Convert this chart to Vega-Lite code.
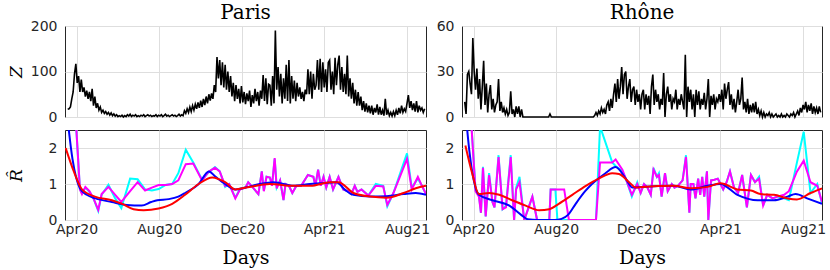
{
"$schema":"https://vega.github.io/schema/vega-lite/v6.json",
"padding":{"left":6,"top":2,"right":4,"bottom":0},
"bounds":"flush",
"spacing":{"row":13,"column":36},
"columns":2,
"config":{
"view":{"stroke":"#262626","strokeWidth":1},
"font":"DejaVu Sans",
"axis":{"labelFont":"DejaVu Sans","labelFontSize":14,"labelColor":"#262626","gridColor":"#dedede","gridWidth":1,"domain":false,"ticks":false,"labelPadding":8,"labelFlush":false,"titleFont":"DejaVu Serif","titleFontWeight":"normal","titleColor":"#000000"},
"title":{"font":"DejaVu Serif","fontSize":20,"fontWeight":"normal","color":"#000000","baseline":"alphabetic","offset":-4,"anchor":"middle"},
"line":{"invalid":"filter"}
},
"datasets":{
"z":[
{"d":"2020-03-19","p":17,"r":10},{"d":"2020-03-21","p":18,"r":2},{"d":"2020-03-23","p":22,"r":28},{"d":"2020-03-25","p":40,"r":30},{"d":"2020-03-27","p":55,"r":22},{"d":"2020-03-29","p":95,"r":15},{"d":"2020-03-31","p":117,"r":52},
{"d":"2020-04-02","p":75,"r":30},{"d":"2020-04-04","p":90,"r":18},{"d":"2020-04-06","p":55,"r":32},{"d":"2020-04-08","p":82,"r":12},{"d":"2020-04-10","p":55,"r":25},{"d":"2020-04-12","p":65,"r":5},{"d":"2020-04-14","p":45,"r":20},{"d":"2020-04-16","p":58,"r":37},{"d":"2020-04-18","p":40,"r":8},{"d":"2020-04-20","p":55,"r":22},{"d":"2020-04-22","p":35,"r":3},{"d":"2020-04-24","p":62,"r":15},{"d":"2020-04-26","p":25,"r":21},{"d":"2020-04-28","p":45,"r":5},{"d":"2020-04-30","p":20,"r":12},
{"d":"2020-05-02","p":30,"r":3},{"d":"2020-05-04","p":15,"r":8},{"d":"2020-05-06","p":22,"r":10},{"d":"2020-05-08","p":10,"r":25},{"d":"2020-05-10","p":15,"r":4},{"d":"2020-05-12","p":8,"r":10},{"d":"2020-05-14","p":12,"r":3},{"d":"2020-05-16","p":6,"r":6},{"d":"2020-05-18","p":10,"r":2},{"d":"2020-05-20","p":4,"r":5},{"d":"2020-05-22","p":9,"r":1},{"d":"2020-05-24","p":3,"r":3},{"d":"2020-05-26","p":7,"r":17},{"d":"2020-05-28","p":2,"r":2},{"d":"2020-05-30","p":5,"r":5},
{"d":"2020-06-01","p":1,"r":0},{"d":"2020-06-03","p":3,"r":7},{"d":"2020-06-05","p":1,"r":2},{"d":"2020-06-07","p":4,"r":7},{"d":"2020-06-09","p":0,"r":0},{"d":"2020-06-11","p":3,"r":5},{"d":"2020-06-13","p":1,"r":0},{"d":"2020-06-15","p":5,"r":0},{"d":"2020-06-17","p":2,"r":0},{"d":"2020-06-19","p":6,"r":0},{"d":"2020-06-21","p":1,"r":0},{"d":"2020-06-23","p":4,"r":0},{"d":"2020-06-25","p":2,"r":0},{"d":"2020-06-27","p":5,"r":0},{"d":"2020-06-29","p":1,"r":0},
{"d":"2020-07-01","p":3,"r":0},{"d":"2020-07-03","p":1,"r":0},{"d":"2020-07-05","p":4,"r":0},{"d":"2020-07-07","p":2,"r":0},{"d":"2020-07-09","p":5,"r":0},{"d":"2020-07-11","p":1,"r":0},{"d":"2020-07-13","p":3,"r":0},{"d":"2020-07-15","p":5,"r":0},{"d":"2020-07-17","p":2,"r":0},{"d":"2020-07-19","p":4,"r":0},{"d":"2020-07-21","p":1,"r":0},{"d":"2020-07-23","p":3,"r":2},{"d":"2020-07-25","p":2,"r":0},{"d":"2020-07-27","p":5,"r":0},{"d":"2020-07-29","p":1,"r":0},{"d":"2020-07-31","p":4,"r":0},
{"d":"2020-08-02","p":2,"r":0},{"d":"2020-08-04","p":5,"r":0},{"d":"2020-08-06","p":1,"r":0},{"d":"2020-08-08","p":3,"r":0},{"d":"2020-08-10","p":6,"r":0},{"d":"2020-08-12","p":2,"r":0},{"d":"2020-08-14","p":4,"r":0},{"d":"2020-08-16","p":1,"r":0},{"d":"2020-08-18","p":3,"r":0},{"d":"2020-08-20","p":5,"r":0},{"d":"2020-08-22","p":2,"r":0},{"d":"2020-08-24","p":4,"r":0},{"d":"2020-08-26","p":1,"r":0},{"d":"2020-08-28","p":3,"r":0},{"d":"2020-08-30","p":6,"r":0},
{"d":"2020-09-01","p":2,"r":0},{"d":"2020-09-03","p":5,"r":0},{"d":"2020-09-05","p":3,"r":0},{"d":"2020-09-07","p":14,"r":0},{"d":"2020-09-09","p":8,"r":0},{"d":"2020-09-11","p":18,"r":0},{"d":"2020-09-13","p":10,"r":0},{"d":"2020-09-15","p":22,"r":0},{"d":"2020-09-17","p":12,"r":0},{"d":"2020-09-19","p":25,"r":0},{"d":"2020-09-21","p":15,"r":0},{"d":"2020-09-23","p":28,"r":0},{"d":"2020-09-25","p":18,"r":0},{"d":"2020-09-27","p":32,"r":1},{"d":"2020-09-29","p":20,"r":3},
{"d":"2020-10-01","p":36,"r":1},{"d":"2020-10-03","p":22,"r":4},{"d":"2020-10-05","p":40,"r":2},{"d":"2020-10-07","p":26,"r":6},{"d":"2020-10-09","p":45,"r":3},{"d":"2020-10-11","p":30,"r":5},{"d":"2020-10-13","p":50,"r":2},{"d":"2020-10-15","p":36,"r":8},{"d":"2020-10-17","p":52,"r":10},{"d":"2020-10-19","p":40,"r":4},{"d":"2020-10-21","p":70,"r":12},{"d":"2020-10-23","p":55,"r":6},{"d":"2020-10-25","p":132,"r":15},{"d":"2020-10-27","p":85,"r":22},{"d":"2020-10-29","p":125,"r":10},{"d":"2020-10-31","p":70,"r":25},
{"d":"2020-11-02","p":120,"r":12},{"d":"2020-11-04","p":65,"r":20},{"d":"2020-11-06","p":115,"r":33},{"d":"2020-11-08","p":60,"r":15},{"d":"2020-11-10","p":100,"r":28},{"d":"2020-11-12","p":55,"r":30},{"d":"2020-11-14","p":90,"r":12},{"d":"2020-11-16","p":45,"r":20},{"d":"2020-11-18","p":75,"r":25},{"d":"2020-11-20","p":35,"r":10},{"d":"2020-11-22","p":70,"r":18},{"d":"2020-11-24","p":40,"r":20},{"d":"2020-11-26","p":62,"r":8},{"d":"2020-11-28","p":30,"r":18},{"d":"2020-11-30","p":68,"r":10},
{"d":"2020-12-02","p":32,"r":15},{"d":"2020-12-04","p":55,"r":5},{"d":"2020-12-06","p":28,"r":15},{"d":"2020-12-08","p":52,"r":18},{"d":"2020-12-10","p":35,"r":5},{"d":"2020-12-12","p":58,"r":15},{"d":"2020-12-14","p":22,"r":8},{"d":"2020-12-16","p":48,"r":14},{"d":"2020-12-18","p":30,"r":2},{"d":"2020-12-20","p":62,"r":20},{"d":"2020-12-22","p":35,"r":28},{"d":"2020-12-24","p":55,"r":8},{"d":"2020-12-26","p":25,"r":18},{"d":"2020-12-28","p":58,"r":10},{"d":"2020-12-30","p":40,"r":15},
{"d":"2021-01-01","p":92,"r":5},{"d":"2021-01-03","p":35,"r":12},{"d":"2021-01-05","p":85,"r":8},{"d":"2021-01-07","p":28,"r":29},{"d":"2021-01-09","p":72,"r":0},{"d":"2021-01-11","p":70,"r":15},{"d":"2021-01-13","p":25,"r":20},{"d":"2021-01-15","p":90,"r":10},{"d":"2021-01-17","p":30,"r":15},{"d":"2021-01-19","p":190,"r":5},{"d":"2021-01-21","p":60,"r":12},{"d":"2021-01-23","p":110,"r":10},{"d":"2021-01-25","p":45,"r":18},{"d":"2021-01-27","p":95,"r":5},{"d":"2021-01-29","p":30,"r":12},{"d":"2021-01-31","p":85,"r":8},
{"d":"2021-02-02","p":40,"r":15},{"d":"2021-02-04","p":115,"r":10},{"d":"2021-02-06","p":35,"r":5},{"d":"2021-02-08","p":125,"r":41},{"d":"2021-02-10","p":30,"r":0},{"d":"2021-02-12","p":90,"r":20},{"d":"2021-02-14","p":40,"r":10},{"d":"2021-02-16","p":80,"r":18},{"d":"2021-02-18","p":35,"r":5},{"d":"2021-02-20","p":75,"r":15},{"d":"2021-02-22","p":45,"r":0},{"d":"2021-02-24","p":65,"r":18},{"d":"2021-02-26","p":40,"r":8},{"d":"2021-02-28","p":55,"r":17},
{"d":"2021-03-02","p":35,"r":5},{"d":"2021-03-04","p":60,"r":12},{"d":"2021-03-06","p":50,"r":8},{"d":"2021-03-08","p":105,"r":16},{"d":"2021-03-10","p":50,"r":5},{"d":"2021-03-12","p":100,"r":12},{"d":"2021-03-14","p":40,"r":25},{"d":"2021-03-16","p":95,"r":0},{"d":"2021-03-18","p":60,"r":14},{"d":"2021-03-20","p":70,"r":8},{"d":"2021-03-22","p":125,"r":15},{"d":"2021-03-24","p":60,"r":5},{"d":"2021-03-26","p":128,"r":12},{"d":"2021-03-28","p":55,"r":10},{"d":"2021-03-30","p":120,"r":15},
{"d":"2021-04-01","p":65,"r":10},{"d":"2021-04-03","p":105,"r":18},{"d":"2021-04-05","p":55,"r":5},{"d":"2021-04-07","p":120,"r":22},{"d":"2021-04-09","p":125,"r":12},{"d":"2021-04-11","p":60,"r":18},{"d":"2021-04-13","p":100,"r":23},{"d":"2021-04-15","p":50,"r":8},{"d":"2021-04-17","p":130,"r":15},{"d":"2021-04-19","p":70,"r":5},{"d":"2021-04-21","p":115,"r":12},{"d":"2021-04-23","p":135,"r":3},{"d":"2021-04-25","p":60,"r":10},{"d":"2021-04-27","p":110,"r":18},{"d":"2021-04-29","p":55,"r":8},
{"d":"2021-05-01","p":95,"r":12},{"d":"2021-05-03","p":50,"r":26},{"d":"2021-05-05","p":135,"r":5},{"d":"2021-05-07","p":45,"r":10},{"d":"2021-05-09","p":85,"r":3},{"d":"2021-05-11","p":40,"r":12},{"d":"2021-05-13","p":75,"r":2},{"d":"2021-05-15","p":30,"r":8},{"d":"2021-05-17","p":60,"r":3},{"d":"2021-05-19","p":25,"r":9},{"d":"2021-05-21","p":55,"r":3},{"d":"2021-05-23","p":25,"r":10},{"d":"2021-05-25","p":45,"r":2},{"d":"2021-05-27","p":15,"r":5},{"d":"2021-05-29","p":35,"r":1},{"d":"2021-05-31","p":12,"r":4},
{"d":"2021-06-02","p":30,"r":0},{"d":"2021-06-04","p":10,"r":3},{"d":"2021-06-06","p":25,"r":0},{"d":"2021-06-08","p":8,"r":2},{"d":"2021-06-10","p":25,"r":1},{"d":"2021-06-12","p":5,"r":3},{"d":"2021-06-14","p":20,"r":0},{"d":"2021-06-16","p":10,"r":2},{"d":"2021-06-18","p":28,"r":0},{"d":"2021-06-20","p":5,"r":1},{"d":"2021-06-22","p":22,"r":2},{"d":"2021-06-24","p":5,"r":0},{"d":"2021-06-26","p":15,"r":1},{"d":"2021-06-28","p":3,"r":0},{"d":"2021-06-30","p":40,"r":2},
{"d":"2021-07-02","p":5,"r":0},{"d":"2021-07-04","p":15,"r":1},{"d":"2021-07-06","p":3,"r":0},{"d":"2021-07-08","p":10,"r":2},{"d":"2021-07-10","p":2,"r":1},{"d":"2021-07-12","p":12,"r":0},{"d":"2021-07-14","p":3,"r":2},{"d":"2021-07-16","p":15,"r":1},{"d":"2021-07-18","p":5,"r":3},{"d":"2021-07-20","p":20,"r":0},{"d":"2021-07-22","p":8,"r":2},{"d":"2021-07-24","p":25,"r":4},{"d":"2021-07-26","p":10,"r":1},{"d":"2021-07-28","p":18,"r":6},{"d":"2021-07-30","p":12,"r":3},
{"d":"2021-08-01","p":30,"r":8},{"d":"2021-08-03","p":48,"r":5},{"d":"2021-08-05","p":20,"r":10},{"d":"2021-08-07","p":35,"r":3},{"d":"2021-08-09","p":15,"r":8},{"d":"2021-08-11","p":30,"r":4},{"d":"2021-08-13","p":12,"r":9},{"d":"2021-08-15","p":35,"r":2},{"d":"2021-08-17","p":10,"r":7},{"d":"2021-08-19","p":25,"r":3},{"d":"2021-08-21","p":15,"r":6},{"d":"2021-08-23","p":20,"r":2},{"d":"2021-08-25","p":10,"r":7},{"d":"2021-08-27","p":18,"r":3}
],
"pcm":[
{"d":"2020-03-27","c":4,"m":4},{"d":"2020-04-06","c":0.85,"m":0.85},{"d":"2020-04-09","c":0.75,"m":0.72},{"d":"2020-04-14","c":0.9,"m":0.92},{"d":"2020-04-20","c":0.78,"m":0.8},{"d":"2020-04-26","c":0.6,"m":0.6},{"d":"2020-05-03","c":0.25,"m":0.28},{"d":"2020-05-08","c":0.7,"m":0.72},{"d":"2020-05-18","c":0.98,"m":0.92},{"d":"2020-05-28","c":0.6,"m":0.7},{"d":"2020-06-06","c":0.33,"m":0.5},{"d":"2020-06-19","c":1.15,"m":0.8},{"d":"2020-06-30","c":1.13,"m":1.05},{"d":"2020-07-11","c":0.85,"m":0.82},{"d":"2020-07-21","c":0.82,"m":0.9},{"d":"2020-07-31","c":0.86,"m":0.97},{"d":"2020-08-11","c":0.98,"m":0.97},{"d":"2020-08-20","c":1.0,"m":1.0},{"d":"2020-08-29","c":1.3,"m":1.1},{"d":"2020-09-09","c":1.95,"m":1.55},{"d":"2020-09-20","c":1.6,"m":1.57},{"d":"2020-10-03","c":1.12,"m":1.1},{"d":"2020-10-13","c":1.33,"m":1.35},{"d":"2020-10-22","c":1.47,"m":1.45},{"d":"2020-10-29","c":1.35,"m":1.35},{"d":"2020-11-06","c":0.92,"m":0.95},{"d":"2020-11-12","c":1.0,"m":1.0},{"d":"2020-11-21","c":0.62,"m":0.6},{"d":"2020-11-28","c":0.87,"m":0.85},{"d":"2020-12-06","c":0.9,"m":0.9},{"d":"2020-12-10","c":1.05,"m":1.05},{"d":"2020-12-17","c":0.9,"m":0.9},{"d":"2020-12-25","c":0.72,"m":0.72},{"d":"2020-12-30","c":1.35,"m":1.35},{"d":"2021-01-02","c":0.82,"m":0.8},{"d":"2021-01-06","c":1.2,"m":1.2},{"d":"2021-01-11","c":1.18,"m":1.18},{"d":"2021-01-14","c":0.95,"m":0.95},{"d":"2021-01-18","c":1.7,"m":1.72},{"d":"2021-01-21","c":0.9,"m":0.88},{"d":"2021-01-26","c":1.1,"m":1.1},{"d":"2021-01-31","c":0.55,"m":0.55},{"d":"2021-02-03","c":1.0,"m":1.0},{"d":"2021-02-08","c":0.95,"m":0.95},{"d":"2021-02-13","c":0.75,"m":0.75},{"d":"2021-02-19","c":0.95,"m":0.95},{"d":"2021-02-26","c":0.95,"m":0.95},{"d":"2021-03-08","c":1.25,"m":1.25},{"d":"2021-03-16","c":1.2,"m":1.2},{"d":"2021-03-19","c":0.95,"m":0.95},{"d":"2021-03-23","c":1.4,"m":1.4},{"d":"2021-03-27","c":0.95,"m":0.95},{"d":"2021-03-31","c":1.2,"m":1.2},{"d":"2021-04-04","c":0.9,"m":0.9},{"d":"2021-04-09","c":1.2,"m":1.2},{"d":"2021-04-14","c":0.85,"m":0.85},{"d":"2021-04-22","c":1.2,"m":1.2},{"d":"2021-04-29","c":0.85,"m":0.85},{"d":"2021-05-06","c":0.8,"m":0.8},{"d":"2021-05-11","c":0.72,"m":0.72},{"d":"2021-05-16","c":0.95,"m":0.95},{"d":"2021-05-20","c":0.78,"m":0.78},{"d":"2021-05-26","c":0.85,"m":0.85},{"d":"2021-06-05","c":0.68,"m":0.68},{"d":"2021-06-16","c":1.0,"m":0.95},{"d":"2021-06-27","c":0.95,"m":0.93},{"d":"2021-07-03","c":0.38,"m":0.42},{"d":"2021-07-12","c":0.75,"m":0.75},{"d":"2021-08-01","c":1.85,"m":1.7},{"d":"2021-08-08","c":0.9,"m":0.85},{"d":"2021-08-17","c":1.15,"m":1.2},{"d":"2021-08-23","c":0.95,"m":0.95},{"d":"2021-08-29","c":0.72,"m":0.72}
],
"pb":[
{"d":"2020-03-16","v":3.3},{"d":"2020-03-26","v":1.7},{"d":"2020-04-06","v":0.88},{"d":"2020-04-16","v":0.7},{"d":"2020-04-29","v":0.6},{"d":"2020-05-23","v":0.5},{"d":"2020-06-14","v":0.42},{"d":"2020-07-06","v":0.4},{"d":"2020-07-20","v":0.5},{"d":"2020-07-29","v":0.55},{"d":"2020-08-15","v":0.58},{"d":"2020-08-29","v":0.65},{"d":"2020-09-08","v":0.75},{"d":"2020-09-28","v":1.0},{"d":"2020-10-13","v":1.35},{"d":"2020-10-23","v":1.2},{"d":"2020-11-06","v":1.0},{"d":"2020-11-21","v":0.85},{"d":"2020-12-06","v":0.9},{"d":"2020-12-27","v":1.0},{"d":"2021-01-16","v":1.05},{"d":"2021-02-15","v":0.95},{"d":"2021-03-11","v":1.0},{"d":"2021-04-01","v":1.03},{"d":"2021-04-19","v":1.05},{"d":"2021-05-01","v":0.85},{"d":"2021-05-14","v":0.7},{"d":"2021-06-08","v":0.65},{"d":"2021-07-02","v":0.66},{"d":"2021-07-27","v":0.72},{"d":"2021-08-14","v":0.75},{"d":"2021-08-29","v":0.7}
],
"pr":[
{"d":"2020-03-16","v":2.0},{"d":"2020-03-28","v":1.35},{"d":"2020-04-09","v":0.85},{"d":"2020-04-28","v":0.65},{"d":"2020-05-23","v":0.55},{"d":"2020-06-07","v":0.45},{"d":"2020-06-24","v":0.3},{"d":"2020-07-09","v":0.27},{"d":"2020-07-31","v":0.32},{"d":"2020-08-20","v":0.45},{"d":"2020-09-08","v":0.7},{"d":"2020-09-28","v":1.0},{"d":"2020-10-18","v":1.18},{"d":"2020-11-06","v":1.05},{"d":"2020-11-21","v":0.85},{"d":"2020-12-07","v":0.9},{"d":"2021-01-11","v":1.0},{"d":"2021-02-15","v":0.95},{"d":"2021-03-12","v":0.95},{"d":"2021-04-10","v":1.05},{"d":"2021-04-22","v":1.05},{"d":"2021-05-14","v":0.75},{"d":"2021-06-08","v":0.65},{"d":"2021-07-02","v":0.62},{"d":"2021-07-27","v":0.75},{"d":"2021-08-14","v":0.88},{"d":"2021-08-29","v":0.95}
],
"rcm":[
{"d":"2020-03-26","c":3.5,"m":3.5},{"d":"2020-04-04","c":0.85,"m":0.8},{"d":"2020-04-09","c":0.7,"m":0.65},{"d":"2020-04-12","c":0.2,"m":0.2},{"d":"2020-04-15","c":1.48,"m":1.45},{"d":"2020-04-19","c":0.1,"m":0.1},{"d":"2020-04-24","c":1.3,"m":1.25},{"d":"2020-04-29","c":0.5,"m":0.5},{"d":"2020-05-02","c":0.35,"m":0.35},{"d":"2020-05-08","c":1.8,"m":1.75},{"d":"2020-05-14","c":0.3,"m":0.3},{"d":"2020-05-19","c":0.4,"m":0.35},{"d":"2020-05-26","c":1.8,"m":1.75},{"d":"2020-05-31","c":0,"m":0},{"d":"2020-06-03","c":0.9,"m":0.85},{"d":"2020-06-08","c":1.2,"m":1.05},{"d":"2020-06-15","c":0,"m":0},{"d":"2020-06-27","c":0.65,"m":0.65},{"d":"2020-07-04","c":0,"m":0},{"d":"2020-07-22","c":0,"m":0},{"d":"2020-07-24","c":0.85,"m":0.85},{"d":"2020-07-31","c":0.85,"m":0.85},{"d":"2020-08-03","c":0,"m":null},{"d":"2020-08-13","c":null,"m":0.85},{"d":"2020-08-20","c":0,"m":0},{"d":"2020-09-29","c":0,"m":0},{"d":"2020-10-05","c":2.6,"m":1.6},{"d":"2020-10-23","c":1.6,"m":1.6},{"d":"2020-10-28","c":1.5,"m":1.68},{"d":"2020-11-07","c":1.35,"m":1.4},{"d":"2020-11-12","c":1.15,"m":1.15},{"d":"2020-11-21","c":0.65,"m":0.7},{"d":"2020-11-29","c":1.05,"m":1.0},{"d":"2020-12-04","c":0.75,"m":0.75},{"d":"2020-12-09","c":1.0,"m":1.0},{"d":"2020-12-14","c":0.9,"m":0.9},{"d":"2020-12-19","c":0.7,"m":0.7},{"d":"2020-12-23","c":1.45,"m":1.4},{"d":"2020-12-28","c":1.2,"m":1.2},{"d":"2020-12-31","c":1.3,"m":1.25},{"d":"2021-01-04","c":0.65,"m":0.65},{"d":"2021-01-09","c":1.3,"m":1.3},{"d":"2021-01-13","c":0.8,"m":0.8},{"d":"2021-01-19","c":1.0,"m":1.0},{"d":"2021-01-23","c":0.9,"m":0.9},{"d":"2021-01-28","c":0.95,"m":0.95},{"d":"2021-02-04","c":1.1,"m":1.1},{"d":"2021-02-09","c":1.8,"m":1.75},{"d":"2021-02-14","c":0.2,"m":0.2},{"d":"2021-02-16","c":1.0,"m":1.0},{"d":"2021-02-20","c":1.0,"m":1.0},{"d":"2021-02-23","c":0.6,"m":0.6},{"d":"2021-02-27","c":1.15,"m":1.15},{"d":"2021-03-02","c":0.7,"m":0.7},{"d":"2021-03-05","c":1.2,"m":1.2},{"d":"2021-03-08","c":0.65,"m":0.65},{"d":"2021-03-12","c":1.35,"m":1.35},{"d":"2021-03-14","c":0,"m":0},{"d":"2021-03-18","c":1.1,"m":1.1},{"d":"2021-03-23","c":1.12,"m":1.12},{"d":"2021-03-28","c":1.15,"m":1.15},{"d":"2021-04-01","c":1.0,"m":1.0},{"d":"2021-04-05","c":0.85,"m":0.85},{"d":"2021-04-10","c":1.05,"m":1.05},{"d":"2021-04-15","c":1.35,"m":1.35},{"d":"2021-04-21","c":0.9,"m":0.9},{"d":"2021-04-27","c":0.75,"m":0.75},{"d":"2021-05-03","c":1.25,"m":1.25},{"d":"2021-05-10","c":0.35,"m":0.35},{"d":"2021-05-16","c":1.25,"m":1.25},{"d":"2021-05-22","c":1.05,"m":1.05},{"d":"2021-05-28","c":1.2,"m":1.15},{"d":"2021-06-03","c":0.4,"m":0.4},{"d":"2021-06-09","c":0.7,"m":0.7},{"d":"2021-06-17","c":0.6,"m":0.6},{"d":"2021-06-24","c":0.65,"m":0.65},{"d":"2021-07-04","c":0.6,"m":0.7},{"d":"2021-07-11","c":0.55,"m":0.8},{"d":"2021-07-23","c":1.6,"m":1.35},{"d":"2021-08-02","c":2.45,"m":1.65},{"d":"2021-08-12","c":0.75,"m":1.05},{"d":"2021-08-22","c":1.0,"m":0.95},{"d":"2021-08-29","c":0.45,"m":0.5}
],
"rb":[
{"d":"2020-03-18","v":3.5},{"d":"2020-03-26","v":1.9},{"d":"2020-04-09","v":0.7},{"d":"2020-04-29","v":0.55},{"d":"2020-05-24","v":0.4},{"d":"2020-06-10","v":0.15},{"d":"2020-06-20","v":0.02},{"d":"2020-07-05","v":0},{"d":"2020-07-30","v":0},{"d":"2020-08-09","v":0.03},{"d":"2020-08-19","v":0.15},{"d":"2020-08-30","v":0.45},{"d":"2020-09-13","v":0.8},{"d":"2020-09-23","v":1.0},{"d":"2020-10-13","v":1.3},{"d":"2020-10-28","v":1.47},{"d":"2020-11-12","v":1.15},{"d":"2020-11-22","v":0.9},{"d":"2020-12-06","v":0.92},{"d":"2021-01-22","v":0.95},{"d":"2021-02-16","v":0.85},{"d":"2021-03-13","v":0.95},{"d":"2021-04-01","v":1.0},{"d":"2021-04-26","v":0.7},{"d":"2021-05-26","v":0.55},{"d":"2021-06-19","v":0.55},{"d":"2021-07-09","v":0.65},{"d":"2021-07-21","v":0.72},{"d":"2021-08-07","v":0.6},{"d":"2021-08-29","v":0.45}
],
"rr":[
{"d":"2020-03-20","v":2.07},{"d":"2020-03-30","v":1.3},{"d":"2020-04-09","v":0.72},{"d":"2020-04-24","v":0.75},{"d":"2020-05-09","v":0.7},{"d":"2020-05-28","v":0.55},{"d":"2020-06-17","v":0.4},{"d":"2020-07-07","v":0.27},{"d":"2020-07-22","v":0.3},{"d":"2020-08-05","v":0.45},{"d":"2020-08-25","v":0.7},{"d":"2020-09-14","v":0.95},{"d":"2020-10-03","v":1.15},{"d":"2020-10-23","v":1.3},{"d":"2020-11-02","v":1.28},{"d":"2020-11-17","v":1.05},{"d":"2020-11-27","v":0.9},{"d":"2020-12-07","v":0.92},{"d":"2021-01-22","v":0.95},{"d":"2021-02-16","v":0.88},{"d":"2021-03-13","v":0.92},{"d":"2021-04-01","v":1.02},{"d":"2021-04-26","v":0.85},{"d":"2021-05-16","v":0.82},{"d":"2021-05-30","v":0.72},{"d":"2021-06-19","v":0.7},{"d":"2021-07-09","v":0.6},{"d":"2021-07-23","v":0.57},{"d":"2021-08-12","v":0.75},{"d":"2021-08-29","v":0.88}
]
},
"concat":[
{"title":"Paris","width":361,"height":91,"data":{"name":"z"},
 "mark":{"type":"line","color":"#000000","strokeWidth":1.6},
 "encoding":{
  "x":{"field":"d","type":"temporal","scale":{"domain":[{"year":2020,"month":3,"date":15},{"year":2021,"month":8,"date":29}]},"axis":{"values":[{"year":2020,"month":4,"date":1},{"year":2020,"month":8,"date":1},{"year":2020,"month":12,"date":1},{"year":2021,"month":4,"date":1},{"year":2021,"month":8,"date":1}],"labels":false,"title":null,"grid":true}},
  "y":{"field":"p","type":"quantitative","scale":{"domain":[0,200],"nice":false},"axis":{"values":[0,100,200],"title":"Z","titleFontStyle":"italic","titleFontSize":17,"titleAngle":-90,"titleX":-49,"titleY":45.5,"titleAlign":"center","titleBaseline":"middle","grid":true}}
 }},
{"title":"Rhône","width":360,"height":91,"data":{"name":"z"},
 "mark":{"type":"line","color":"#000000","strokeWidth":1.6},
 "encoding":{
  "x":{"field":"d","type":"temporal","scale":{"domain":[{"year":2020,"month":3,"date":15},{"year":2021,"month":8,"date":29}]},"axis":{"values":[{"year":2020,"month":4,"date":1},{"year":2020,"month":8,"date":1},{"year":2020,"month":12,"date":1},{"year":2021,"month":4,"date":1},{"year":2021,"month":8,"date":1}],"labels":false,"title":null,"grid":true}},
  "y":{"field":"r","type":"quantitative","scale":{"domain":[0,60],"nice":false},"axis":{"values":[0,30,60],"title":null,"grid":true}}
 }},
{"width":361,"height":90,
 "encoding":{
  "x":{"field":"d","type":"temporal","scale":{"domain":[{"year":2020,"month":3,"date":15},{"year":2021,"month":8,"date":29}]},"axis":{"values":[{"year":2020,"month":4,"date":1},{"year":2020,"month":8,"date":1},{"year":2020,"month":12,"date":1},{"year":2021,"month":4,"date":1},{"year":2021,"month":8,"date":1}],"format":"%b%y","labelPadding":2,"title":"Days","titleFontSize":19,"titlePadding":12,"grid":true}},
  "y":{"field":"v","type":"quantitative","scale":{"domain":[0,2.5],"nice":false},"axis":{"values":[0,1,2],"title":"R̂","titleFontStyle":"italic","titleFontSize":17,"titleAngle":-90,"titleX":-49,"titleY":45,"titleAlign":"center","titleBaseline":"middle","grid":true}}
 },
 "layer":[
  {"data":{"name":"pcm"},"mark":{"type":"line","color":"#00ffff","strokeWidth":2,"clip":true},
   "encoding":{"y":{"field":"c","type":"quantitative","scale":{"domain":[0,2.5],"nice":false},"axis":{"values":[0,1,2],"title":"R̂","titleFontStyle":"italic","titleFontSize":17,"titleAngle":-90,"titleX":-49,"titleY":45,"titleAlign":"center","titleBaseline":"middle","grid":true}}}},
  {"data":{"name":"pcm"},"mark":{"type":"line","color":"#ff00ff","strokeWidth":2,"clip":true},
   "encoding":{"y":{"field":"m","type":"quantitative","scale":{"domain":[0,2.5],"nice":false},"axis":{"values":[0,1,2],"title":"R̂","titleFontStyle":"italic","titleFontSize":17,"titleAngle":-90,"titleX":-49,"titleY":45,"titleAlign":"center","titleBaseline":"middle","grid":true}}}},
  {"data":{"name":"pb"},"mark":{"type":"line","color":"#0000ff","strokeWidth":2,"clip":true,"interpolate":"monotone"}},
  {"data":{"name":"pr"},"mark":{"type":"line","color":"#ff0000","strokeWidth":2,"clip":true,"interpolate":"monotone"}}
 ]},
{"width":360,"height":90,
 "encoding":{
  "x":{"field":"d","type":"temporal","scale":{"domain":[{"year":2020,"month":3,"date":15},{"year":2021,"month":8,"date":29}]},"axis":{"values":[{"year":2020,"month":4,"date":1},{"year":2020,"month":8,"date":1},{"year":2020,"month":12,"date":1},{"year":2021,"month":4,"date":1},{"year":2021,"month":8,"date":1}],"format":"%b%y","labelPadding":2,"title":"Days","titleFontSize":19,"titlePadding":12,"grid":true}},
  "y":{"field":"v","type":"quantitative","scale":{"domain":[0,2.5],"nice":false},"axis":{"values":[0,1,2],"title":null,"grid":true}}
 },
 "layer":[
  {"data":{"name":"rcm"},"mark":{"type":"line","color":"#00ffff","strokeWidth":2,"clip":true},
   "encoding":{"y":{"field":"c","type":"quantitative","scale":{"domain":[0,2.5],"nice":false},"axis":{"values":[0,1,2],"title":null,"grid":true}}}},
  {"data":{"name":"rcm"},"mark":{"type":"line","color":"#ff00ff","strokeWidth":2,"clip":true},
   "encoding":{"y":{"field":"m","type":"quantitative","scale":{"domain":[0,2.5],"nice":false},"axis":{"values":[0,1,2],"title":null,"grid":true}}}},
  {"data":{"name":"rb"},"mark":{"type":"line","color":"#0000ff","strokeWidth":2,"clip":true,"interpolate":"monotone"}},
  {"data":{"name":"rr"},"mark":{"type":"line","color":"#ff0000","strokeWidth":2,"clip":true,"interpolate":"monotone"}}
 ]}
]
}
